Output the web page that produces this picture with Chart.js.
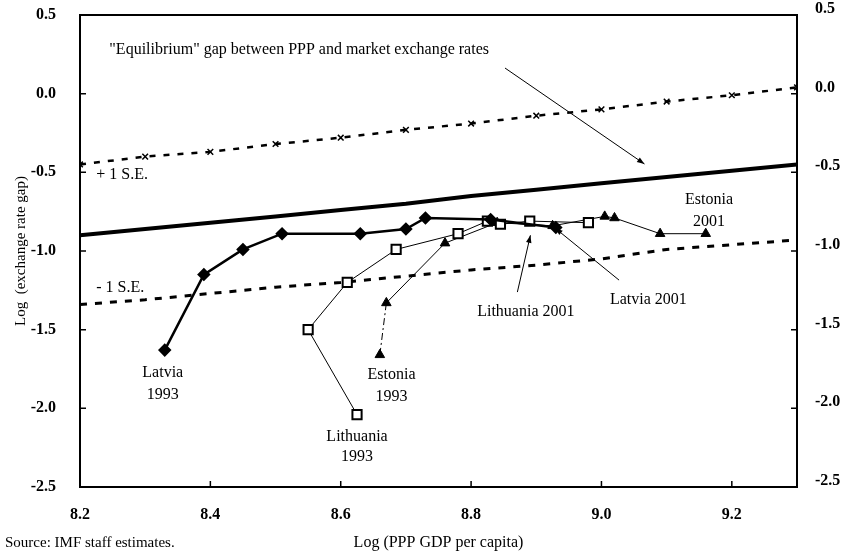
<!DOCTYPE html>
<html>
<head>
<meta charset="utf-8">
<script src="https://cdn.jsdelivr.net/npm/chart.js@4/dist/chart.umd.min.js"></script>
<style>
  body { margin: 0; background: #fff; }
  canvas { display: block; }
</style>
</head>
<body>
<canvas id="gapChart" width="844" height="554"></canvas>
<script>
// tick labels
const xTicks = [8.2, 8.4, 8.6, 8.8, 9.0, 9.2];
const yTicks = [0.5, 0.0, -0.5, -1.0, -1.5, -2.0, -2.5];

// country paths, 1993 -> 2001
const latviaX = [8.33, 8.39, 8.45, 8.51, 8.63, 8.70, 8.73, 8.83, 8.93];
const latviaY = [-1.63, -1.15, -0.99, -0.89, -0.89, -0.86, -0.79, -0.80, -0.85];

const lithuaniaX = [8.625, 8.55, 8.61, 8.685, 8.78, 8.825, 8.845, 8.89, 8.98];
const lithuaniaY = [-2.04, -1.50, -1.20, -0.99, -0.89, -0.81, -0.83, -0.81, -0.82];

const estoniaX = [8.66, 8.67, 8.76, 8.84, 8.925, 9.005, 9.02, 9.09, 9.16];
const estoniaY = [-1.66, -1.33, -0.95, -0.82, -0.84, -0.78, -0.79, -0.89, -0.89];

// equilibrium line and +/- 1 S.E.
const bandX = [8.2, 8.3, 8.4, 8.5, 8.6, 8.7, 8.8, 8.9, 9.0, 9.1, 9.2, 9.3];
const equilibrium = [-0.90, -0.86, -0.82, -0.78, -0.74, -0.70, -0.65, -0.61, -0.57, -0.53, -0.49, -0.45];
const upperSE = [-0.45, -0.40, -0.37, -0.32, -0.28, -0.23, -0.19, -0.14, -0.10, -0.05, -0.01, 0.04];
const lowerSE = [-1.34, -1.31, -1.27, -1.23, -1.20, -1.16, -1.12, -1.09, -1.05, -0.99, -0.96, -0.93];

const serif = "'Liberation Serif', 'DejaVu Serif', serif";

function pts(xs, ys) {
  return xs.map((x, i) => ({ x: x, y: ys[i] }));
}

// text notes and arrows, placed in data units
const notes = [
  { text: '"Equilibrium" gap between PPP and market exchange rates', x: 8.245, y: 0.278, align: "left" },
  { text: "+ 1 S.E.", x: 8.225, y: -0.517, align: "left" },
  { text: "- 1 S.E.", x: 8.225, y: -1.236, align: "left" },
  { text: "Latvia", x: 8.327, y: -1.776 },
  { text: "1993", x: 8.327, y: -1.916 },
  { text: "Lithuania", x: 8.625, y: -2.183 },
  { text: "1993", x: 8.625, y: -2.31 },
  { text: "Estonia", x: 8.678, y: -1.789 },
  { text: "1993", x: 8.678, y: -1.929 },
  { text: "Estonia", x: 9.165, y: -0.676 },
  { text: "2001", x: 9.165, y: -0.816 },
  { text: "Lithuania 2001", x: 8.884, y: -1.388 },
  { text: "Latvia 2001", x: 9.072, y: -1.312 },
];

const arrows = [
  { from: [8.852, 0.163], to: [9.066, -0.447] },
  { from: [8.871, -1.261], to: [8.891, -0.90] },
  { from: [9.027, -1.185], to: [8.929, -0.855] },
];

const decor = {
  id: "decor",
  afterDraw(chart) {
    const ctx = chart.ctx;
    const a = chart.chartArea;
    const sx = chart.scales.x;
    const sy = chart.scales.y;
    ctx.save();
    ctx.strokeStyle = "#000";

    // top frame line
    ctx.lineWidth = 2;
    ctx.beginPath();
    ctx.moveTo(a.left, a.top);
    ctx.lineTo(a.right, a.top);
    ctx.stroke();

    // inward tick marks
    ctx.lineWidth = 1.5;
    ctx.beginPath();
    yTicks.forEach((v) => {
      const py = sy.getPixelForValue(v);
      ctx.moveTo(a.left, py);
      ctx.lineTo(a.left + 6, py);
      ctx.moveTo(a.right, py);
      ctx.lineTo(a.right - 6, py);
    });
    xTicks.forEach((v) => {
      const px = sx.getPixelForValue(v);
      ctx.moveTo(px, a.bottom);
      ctx.lineTo(px, a.bottom - 6);
    });
    ctx.stroke();

    // arrows
    ctx.lineWidth = 1;
    ctx.fillStyle = "#000";
    arrows.forEach((ar) => {
      const x1 = sx.getPixelForValue(ar.from[0]);
      const y1 = sy.getPixelForValue(ar.from[1]);
      const x2 = sx.getPixelForValue(ar.to[0]);
      const y2 = sy.getPixelForValue(ar.to[1]);
      const ang = Math.atan2(y2 - y1, x2 - x1);
      ctx.beginPath();
      ctx.moveTo(x1, y1);
      ctx.lineTo(x2, y2);
      ctx.stroke();
      ctx.beginPath();
      ctx.moveTo(x2, y2);
      ctx.lineTo(x2 - 8 * Math.cos(ang - 0.35), y2 - 8 * Math.sin(ang - 0.35));
      ctx.lineTo(x2 - 8 * Math.cos(ang + 0.35), y2 - 8 * Math.sin(ang + 0.35));
      ctx.closePath();
      ctx.fill();
    });

    // notes
    ctx.font = "16px " + serif;
    ctx.textBaseline = "middle";
    notes.forEach((n) => {
      ctx.textAlign = n.align || "center";
      ctx.fillText(n.text, sx.getPixelForValue(n.x), sy.getPixelForValue(n.y));
    });

    // source line
    ctx.font = "15px " + serif;
    ctx.textAlign = "left";
    ctx.fillText("Source: IMF staff estimates.", 5, 543);
    ctx.restore();
  },
};

function fixBox(size) {
  return (s) => {
    if (s.isHorizontal()) s.height = size;
    else s.width = size;
    s.paddingTop = 0;
    s.paddingBottom = 0;
    s.paddingLeft = 0;
    s.paddingRight = 0;
  };
}

new Chart(document.getElementById("gapChart"), {
  type: "line",
  data: {
    datasets: [
      {
        label: "Latvia",
        data: pts(latviaX, latviaY),
        borderColor: "#000",
        backgroundColor: "#000",
        borderWidth: 2.5,
        pointStyle: "rectRot",
        pointRadius: 5,
        tension: 0,
      },
      {
        label: "Lithuania",
        data: pts(lithuaniaX, lithuaniaY),
        borderColor: "#000",
        backgroundColor: "#fff",
        borderWidth: 1,
        pointBorderWidth: 2,
        pointStyle: "rect",
        pointRadius: 6.5,
        tension: 0,
      },
      {
        label: "Estonia",
        data: pts(estoniaX, estoniaY),
        borderColor: "#000",
        backgroundColor: "#000",
        borderWidth: 1,
        pointStyle: "triangle",
        pointRadius: 5.5,
        tension: 0,
        segment: {
          borderDash: (c) => (c.p0DataIndex === 0 ? [7, 3, 2, 3] : undefined),
        },
      },
      {
        label: "Equilibrium",
        data: pts(bandX, equilibrium),
        borderColor: "#000",
        borderWidth: 4,
        pointRadius: 0,
        tension: 0,
      },
      {
        label: "+1 S.E.",
        data: pts(bandX, upperSE),
        borderColor: "#000",
        backgroundColor: "#000",
        borderWidth: 2.5,
        borderDash: [6, 8],
        pointStyle: "crossRot",
        pointRadius: 4,
        pointBorderWidth: 1.5,
        tension: 0,
      },
      {
        label: "-1 S.E.",
        data: pts(bandX, lowerSE),
        borderColor: "#000",
        borderWidth: 3,
        borderDash: [7, 8],
        pointRadius: 0,
        tension: 0,
      },
    ],
  },
  options: {
    responsive: false,
    animation: false,
    layout: {
      padding: { left: 8, top: 15, right: 0, bottom: 0 },
    },
    plugins: {
      legend: { display: false },
      tooltip: { enabled: false },
    },
    scales: {
      x: {
        type: "linear",
        min: 8.2,
        max: 9.3,
        afterBuildTicks: (s) => {
          s.ticks = xTicks.map((v) => ({ value: v }));
        },
        afterFit: fixBox(67),
        grid: { display: false },
        border: { display: true, color: "#000", width: 2 },
        ticks: {
          color: "#000",
          padding: 10,
          font: { family: serif, size: 16, weight: "bold" },
          callback: (v) => Number(v).toFixed(1),
        },
        title: {
          display: true,
          text: "Log (PPP GDP per capita)",
          color: "#000",
          font: { family: serif, size: 16 },
          padding: { top: 0, bottom: 2 },
        },
      },
      y: {
        position: "left",
        min: -2.5,
        max: 0.5,
        afterBuildTicks: (s) => {
          s.ticks = yTicks.map((v) => ({ value: v }));
        },
        afterFit: fixBox(72),
        grid: { display: false },
        border: { display: true, color: "#000", width: 2 },
        ticks: {
          color: "#000",
          padding: 16,
          font: { family: serif, size: 16, weight: "bold" },
          callback: (v) => Number(v).toFixed(1),
        },
        title: {
          display: true,
          text: "Log  (exchange rate gap)",
          color: "#000",
          font: { family: serif, size: 15 },
          padding: { top: 4, bottom: 0 },
        },
      },
      y2: {
        position: "right",
        min: -2.5,
        max: 0.5,
        afterBuildTicks: (s) => {
          s.ticks = yTicks.map((v) => ({ value: v }));
        },
        afterFit: fixBox(47),
        grid: { display: false },
        border: { display: true, color: "#000", width: 2 },
        ticks: {
          color: "#000",
          padding: 10,
          labelOffset: -6,
          font: { family: serif, size: 16, weight: "bold" },
          callback: (v) => Number(v).toFixed(1),
        },
      },
    },
  },
  plugins: [decor],
});
</script>
</body>
</html>
